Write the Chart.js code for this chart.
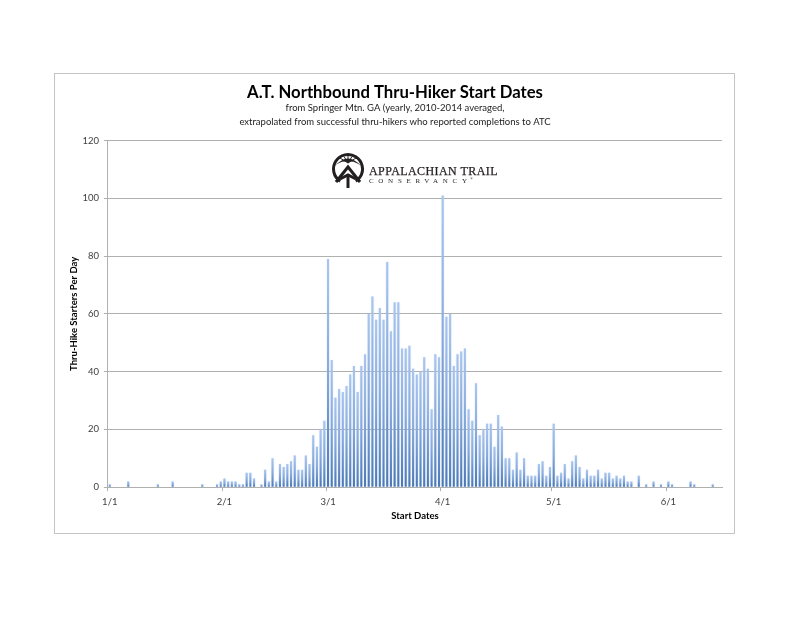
<!DOCTYPE html>
<html>
<head>
<meta charset="utf-8">
<title>A.T. Northbound Thru-Hiker Start Dates</title>
<script src="https://cdn.jsdelivr.net/npm/chart.js@4"></script>
<style>
    html, body { margin: 0; padding: 0; background: #fff; }
    canvas { display: block; }
</style>
</head>
<body>
<canvas id="chart" width="800" height="618"></canvas>
<script>
const titleText = 'A.T. Northbound Thru-Hiker Start Dates';
const subtitleLines = [
    'from Springer Mtn. GA (yearly, 2010-2014 averaged,',
    'extrapolated from successful thru-hikers who reported completions to ATC'
];
const yAxisLabel = 'Thru-Hike Starters Per Day';
const xAxisLabel = 'Start Dates';

const startDates = [
    '1/1','1/2','1/3','1/4','1/5','1/6','1/7','1/8','1/9','1/10','1/11','1/12','1/13','1/14','1/15','1/16',
    '1/17','1/18','1/19','1/20','1/21','1/22','1/23','1/24','1/25','1/26','1/27','1/28','1/29','1/30','1/31',
    '2/1','2/2','2/3','2/4','2/5','2/6','2/7','2/8','2/9','2/10','2/11','2/12','2/13','2/14','2/15','2/16',
    '2/17','2/18','2/19','2/20','2/21','2/22','2/23','2/24','2/25','2/26','2/27','2/28',
    '3/1','3/2','3/3','3/4','3/5','3/6','3/7','3/8','3/9','3/10','3/11','3/12','3/13','3/14','3/15','3/16',
    '3/17','3/18','3/19','3/20','3/21','3/22','3/23','3/24','3/25','3/26','3/27','3/28','3/29','3/30','3/31',
    '4/1','4/2','4/3','4/4','4/5','4/6','4/7','4/8','4/9','4/10','4/11','4/12','4/13','4/14','4/15','4/16',
    '4/17','4/18','4/19','4/20','4/21','4/22','4/23','4/24','4/25','4/26','4/27','4/28','4/29','4/30',
    '5/1','5/2','5/3','5/4','5/5','5/6','5/7','5/8','5/9','5/10','5/11','5/12','5/13','5/14','5/15','5/16',
    '5/17','5/18','5/19','5/20','5/21','5/22','5/23','5/24','5/25','5/26','5/27','5/28','5/29','5/30','5/31',
    '6/1','6/2','6/3','6/4','6/5','6/6','6/7','6/8','6/9','6/10','6/11','6/12','6/13','6/14','6/15'
];

const janStarters = [1,0,0,0,0,2,0,0,0,0,0,0,0,1,0,0,0,2,0,0,0,0,0,0,0,1,0,0,0,1,2];
const febStarters = [3,2,2,2,1,1,5,5,3,0,1,6,2,10,2,8,7,8,9,11,6,6,11,8,18,14,20,23];
const marStarters = [79,44,31,34,33,35,39,42,33,42,46,60,66,58,62,58,78,54,64,64,48,48,49,41,39,40,45,41,27,46,45];
const aprStarters = [101,59,60,42,46,47,48,27,23,36,18,20,22,22,14,25,21,10,10,6,12,6,10,4,4,4,8,9,4,7];
const mayStarters = [22,4,5,8,3,9,11,7,3,6,4,4,6,3,5,5,3,4,3,4,2,2,0,4,0,1,0,2,0,1,0];
const junStarters = [2,1,0,0,0,0,2,1,0,0,0,0,1,0,0];
const starters = [...janStarters, ...febStarters, ...marStarters, ...aprStarters, ...mayStarters, ...junStarters];

const yTicks = { min: 0, max: 120, step: 20 };
const isMonthStart = (label) => label.endsWith('/1');

// soft halo around the thin bars, like the Excel gradient fill
const barGlow = {
    id: 'barGlow',
    beforeDatasetDraw(chart) {
        chart.ctx.save();
        chart.ctx.shadowColor = 'rgba(175,203,240,0.6)';
        chart.ctx.shadowBlur = 1.5;
    },
    afterDatasetDraw(chart) {
        chart.ctx.restore();
    }
};

const frame = {
    id: 'frame',
    beforeDraw(chart) {
        const ctx = chart.ctx;
        ctx.save();
        ctx.strokeStyle = '#c4c4c4';
        ctx.lineWidth = 1;
        ctx.strokeRect(54.5, 73.5, 680, 460);
        ctx.restore();
    }
};

const logo = {
    id: 'logo',
    afterDatasetsDraw(chart) {
        const ctx = chart.ctx;
        ctx.save();
        ctx.strokeStyle = '#231f20';
        ctx.fillStyle = '#231f20';

        // ring, open at the bottom where the trail marker comes through
        ctx.lineWidth = 3;
        ctx.beginPath();
        ctx.arc(348, 169, 14.5, Math.PI * 0.68, Math.PI * 0.32);
        ctx.stroke();

        // ridge fan
        ctx.beginPath();
        ctx.moveTo(335, 166);
        ctx.quadraticCurveTo(348, 151, 361, 166);
        ctx.quadraticCurveTo(354, 160, 348, 162);
        ctx.quadraticCurveTo(341, 160, 335, 166);
        ctx.fill();
        ctx.lineWidth = 1;
        [[340, 158], [344, 156.5], [348, 156], [352, 156.5], [356, 158]].forEach(([x, y]) => {
            ctx.beginPath();
            ctx.moveTo(348, 163);
            ctx.lineTo(x, y);
            ctx.stroke();
        });

        // A marker and stem
        ctx.lineWidth = 3;
        ctx.beginPath();
        ctx.moveTo(336, 182);
        ctx.lineTo(348, 167);
        ctx.lineTo(360, 182);
        ctx.stroke();
        ctx.beginPath();
        ctx.moveTo(340, 179);
        ctx.lineTo(348, 175);
        ctx.lineTo(356, 179);
        ctx.stroke();
        ctx.beginPath();
        ctx.moveTo(348, 175);
        ctx.lineTo(348, 188);
        ctx.stroke();

        ctx.textBaseline = 'alphabetic';
        ctx.textAlign = 'left';
        ctx.lineWidth = 0.25;
        ctx.font = '12px "Liberation Serif"';
        ctx.letterSpacing = '0.42px';
        ctx.fillText('APPALACHIAN TRAIL', 369, 175);
        ctx.strokeText('APPALACHIAN TRAIL', 369, 175);
        ctx.font = '7px "Liberation Serif"';
        ctx.letterSpacing = '4.7px';
        ctx.fillText('CONSERVANCY', 369, 183);
        ctx.font = '4px "Liberation Serif"';
        ctx.letterSpacing = '0px';
        ctx.fillText('®', 470, 180);
        ctx.restore();
    }
};

new Chart(document.getElementById('chart'), {
    type: 'bar',
    data: {
        labels: startDates,
        datasets: [{
            data: starters,
            categoryPercentage: 0.56,
            barPercentage: 1,
            backgroundColor(context) {
                const { chart, parsed } = context;
                if (!chart.chartArea || !parsed) return '#7ea3d6';
                const y = chart.scales.y;
                const gradient = chart.ctx.createLinearGradient(0, y.getPixelForValue(parsed.y), 0, y.getPixelForValue(0));
                gradient.addColorStop(0, '#aac6ee');
                gradient.addColorStop(0.5, '#86a9dc');
                gradient.addColorStop(1, '#4a78b5');
                return gradient;
            }
        }]
    },
    plugins: [frame, barGlow, logo],
    options: {
        responsive: false,
        animation: false,
        devicePixelRatio: 1,
        layout: { padding: { left: 68, right: 78, top: 84, bottom: 96 } },
        plugins: {
            legend: { display: false },
            tooltip: { enabled: false },
            title: {
                display: true,
                text: titleText,
                color: '#000',
                font: { family: 'Lato', size: 16.7, weight: 'bold', lineHeight: 1.05 },
                padding: { top: 0, bottom: 0 }
            },
            subtitle: {
                display: true,
                text: subtitleLines,
                color: '#222',
                font: { family: 'Lato', size: 9.5, lineHeight: 1.45 },
                padding: { top: 0, bottom: 11.5 }
            }
        },
        scales: {
            x: {
                grid: {
                    drawOnChartArea: false,
                    tickLength: 4,
                    color(ctx) { return ctx.tick && isMonthStart(ctx.tick.label || '') ? '#b0b0b0' : 'rgba(0,0,0,0)'; }
                },
                border: { color: '#b0b0b0' },
                ticks: {
                    autoSkip: false,
                    maxRotation: 0,
                    color: '#404040',
                    font: { family: 'Lato', size: 9.5 },
                    padding: 5,
                    callback(value) {
                        const label = this.getLabelForValue(value);
                        return isMonthStart(label) ? label : '';
                    }
                },
                title: {
                    display: true,
                    text: xAxisLabel,
                    color: '#000',
                    font: { family: 'Lato', size: 9.5, weight: 'bold' },
                    padding: { top: -2, bottom: 0 }
                }
            },
            y: {
                min: yTicks.min,
                max: yTicks.max,
                grid: { color: '#b0b0b0', tickLength: 4 },
                border: { color: '#b0b0b0' },
                ticks: {
                    stepSize: yTicks.step,
                    color: '#404040',
                    font: { family: 'Lato', size: 9.5 },
                    padding: 5
                },
                title: {
                    display: true,
                    text: yAxisLabel,
                    color: '#000',
                    font: { family: 'Lato', size: 9.5, weight: 'bold' },
                    padding: { top: 0, bottom: -2 }
                }
            }
        }
    }
});
</script>
</body>
</html>
